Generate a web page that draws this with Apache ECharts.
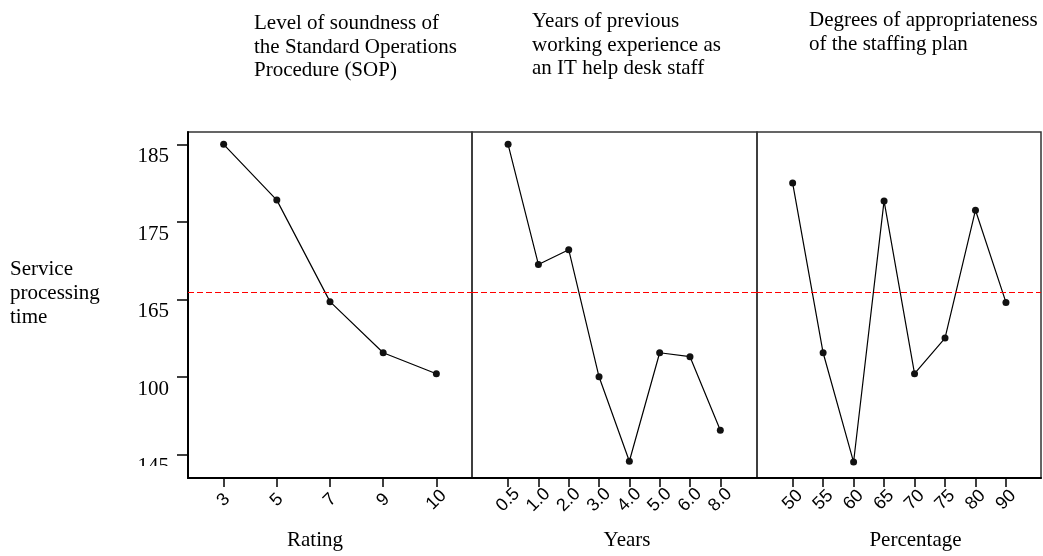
<!DOCTYPE html>
<html>
<head>
<meta charset="utf-8">
<script src="https://cdn.jsdelivr.net/npm/echarts@6/dist/echarts.min.js"></script>
<style>html,body{margin:0;padding:0;background:#fff;}#c{width:1043px;height:556px;}</style>
</head>
<body>
<div id="c"></div>
<script>
const ratingCats = ['3', '5', '7', '9', '10'];
const ratingVals = [185, 177.8, 164.7, 158.1, 155.4];
const yearsCats = ['0.5', '1.0', '2.0', '3.0', '4.0', '5.0', '6.0', '8.0'];
const yearsVals = [185, 169.5, 171.4, 155.0, 144.1, 158.1, 157.6, 148.1];
const pctCats = ['50', '55', '60', '65', '70', '75', '80', '90'];
const pctVals = [180.0, 158.1, 144.0, 177.7, 155.4, 160.0, 176.5, 164.6];
const meanLine = 165.9;
const yTickValues = [145, 155, 165, 175, 185];
const yTickLabels = ['145', '100', '165', '175', '185'];
const panelTitles = [
  'Level of soundness of\nthe Standard Operations\nProcedure (SOP)',
  'Years of previous\nworking experience as\nan IT help desk staff',
  'Degrees of appropriateness\nof the staffing plan'
];
const axisNames = ['Rating', 'Years', 'Percentage'];
const yName = 'Service\nprocessing\ntime';

const SERIF = 'Liberation Serif';
const SANS = 'Liberation Sans';
const yMin = 141.94, yMax = 186.59;

const panels = [
  {cats: ratingCats, vals: ratingVals, left: 188, width: 284, xmin: -0.67, xmax: 4.67, namePad: [0, 30, 0, 0]},
  {cats: yearsCats, vals: yearsVals, left: 472, width: 285, xmin: -1.19, xmax: 8.21, namePad: [0, 0, 0, 25]},
  {cats: pctCats, vals: pctVals, left: 757, width: 284, xmin: -1.17, xmax: 8.15, namePad: [0, 0, 0, 33]}
];

const grid = panels.map(p => ({
  left: p.left, width: p.width, top: 132, height: 346,
  show: true, borderColor: '#333', borderWidth: 1.5, backgroundColor: 'transparent'
}));

const xAxis = panels.map((p, i) => ({
  type: 'value', gridIndex: i, min: p.xmin, max: p.xmax,
  name: axisNames[i], nameLocation: 'middle', nameGap: 52,
  nameTextStyle: {fontFamily: SERIF, fontSize: 21, color: '#000', padding: p.namePad},
  axisLine: {show: true, onZero: false, lineStyle: {color: '#000', width: 2}},
  axisTick: {show: true, length: 9, customValues: p.cats.map((c, k) => k), lineStyle: {color: '#000', width: 1.5}},
  axisLabel: {
    customValues: p.cats.map((c, k) => k),
    formatter: v => p.cats[Math.round(v)],
    rotate: 45, align: 'center', verticalAlign: 'middle', margin: 22,
    fontFamily: SANS, fontSize: 18, color: '#000'
  },
  splitLine: {show: false}
}));

const yAxis = panels.map((p, i) => ({
  type: 'value', gridIndex: i, min: yMin, max: yMax,
  show: i === 0,
  axisLine: {show: true, onZero: false, lineStyle: {color: '#000', width: 2}},
  axisTick: {show: true, length: 11, customValues: yTickValues, lineStyle: {color: '#000', width: 1.5}},
  axisLabel: {
    customValues: yTickValues,
    formatter: v => yTickLabels[yTickValues.indexOf(Math.round(v))],
    margin: 19, verticalAlign: 'top', padding: [2, 0, 0, 0],
    fontFamily: SERIF, fontSize: 21, color: '#000'
  },
  splitLine: {show: false}
}));

const series = panels.map((p, i) => ({
  type: 'line', xAxisIndex: i, yAxisIndex: i,
  data: p.vals.map((v, k) => [k, v]),
  symbol: 'circle', symbolSize: 7,
  itemStyle: {color: '#111'},
  lineStyle: {color: '#000', width: 1.2},
  markLine: {
    silent: true, symbol: ['none', 'none'], label: {show: false},
    lineStyle: {color: '#ff0000', type: [6, 3], width: 1},
    data: [{yAxis: meanLine}]
  }
}));

const titleStyle = {fontFamily: SERIF, fontSize: 21, fontWeight: 'normal', color: '#000', lineHeight: 23.5};
const title = [
  {text: panelTitles[0], left: 254, top: 12, padding: 0, textStyle: titleStyle},
  {text: panelTitles[1], left: 532, top: 10, padding: 0, textStyle: titleStyle},
  {text: panelTitles[2], left: 809, top: 9, padding: 0, textStyle: titleStyle},
  {text: yName, left: 10, top: 257, padding: 0, textStyle: Object.assign({}, titleStyle, {lineHeight: 24})}
];

const chart = echarts.init(document.getElementById('c'), null, {renderer: 'canvas'});
chart.setOption({
  animation: false,
  backgroundColor: '#fff',
  title: title,
  grid: grid,
  xAxis: xAxis,
  yAxis: yAxis,
  series: series,
  graphic: [{
    type: 'rect', z: 100, silent: true,
    shape: {x: 120, y: 466, width: 66, height: 14},
    style: {fill: '#fff'}
  }]
});
</script>
</body>
</html>
